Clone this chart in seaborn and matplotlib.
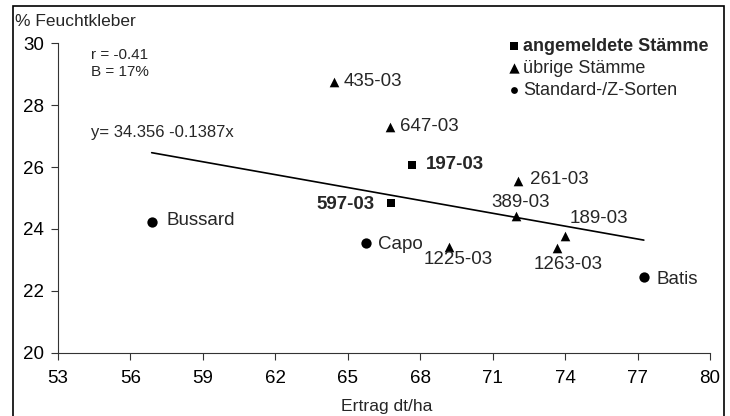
import seaborn as sns
import matplotlib.pyplot as plt
from matplotlib.patches import Rectangle

# data
names = ["197-03", "597-03", "435-03", "647-03", "261-03", "389-03",
         "189-03", "1263-03", "1225-03", "Bussard", "Capo", "Batis"]
ertrag = [67.66, 66.79, 64.41, 66.76, 72.05, 71.97, 73.98, 73.67, 69.18, 56.88, 65.75, 77.26]
kleber = [26.07, 24.85, 28.76, 27.31, 25.55, 24.42, 23.78, 23.39, 23.41, 24.24, 23.54, 22.44]
gruppe = ["angemeldete Stämme"] * 2 + ["übrige Stämme"] * 7 + ["Standard-/Z-Sorten"] * 3
gruppen = ["angemeldete Stämme", "übrige Stämme", "Standard-/Z-Sorten"]
achsen_x = [53, 56, 59, 62, 65, 68, 71, 74, 77, 80]
achsen_y = [20, 22, 24, 26, 28, 30]
# regression y = a + b*x as printed in the chart
reg_a = 34.356
reg_b = -0.1387

sns.set_theme(style="ticks")
plt.rcParams["font.family"] = ["Liberation Sans", "DejaVu Sans"]

fig = plt.figure(figsize=(7.3, 4.16), dpi=100)
ax = fig.add_axes([58 / 730, 1 - 352.7 / 416, (710 - 58) / 730, (352.7 - 43.4) / 416])

# marker style per group
stil = {"angemeldete Stämme": ("s", 38), "übrige Stämme": ("^", 48), "Standard-/Z-Sorten": ("o", 55)}
for g in gruppen:
    xs = [x for x, gg in zip(ertrag, gruppe) if gg == g]
    ys = [y for y, gg in zip(kleber, gruppe) if gg == g]
    sns.scatterplot(x=xs, y=ys, marker=stil[g][0], s=stil[g][1], color="black",
                    edgecolor="black", linewidth=0, label=g, ax=ax, zorder=3)

# regression line over the data range
lx = [min(ertrag), max(ertrag)]
ly = [reg_a + reg_b * v for v in lx]
sns.lineplot(x=lx, y=ly, color="black", linewidth=1.2, ax=ax, zorder=2)

# point labels: offset in pixels, alignment, bold
lab_pos = {
    "197-03": (14, 0, "left", True),
    "597-03": (-16, -2, "right", True),
    "435-03": (10, 0, "left", False),
    "647-03": (10, 0, "left", False),
    "261-03": (12, 2, "left", False),
    "389-03": (5, 13, "center", False),
    "189-03": (5, 17, "left", False),
    "1263-03": (11, -17, "center", False),
    "1225-03": (9, -12, "center", False),
    "Bussard": (15, 1, "left", False),
    "Capo": (12, -1, "left", False),
    "Batis": (13, -2, "left", False),
}
for n, x, y in zip(names, ertrag, kleber):
    dx, dy, ha, bold = lab_pos[n]
    ax.annotate(n, (x, y), xytext=(dx, dy), textcoords="offset pixels",
                ha=ha, va="center", fontsize=13.5,
                fontweight="bold" if bold else "normal")

ax.set_xlim(53, 80)
ax.set_ylim(20, 30)
ax.set_xticks(achsen_x)
ax.set_yticks(achsen_y)
ax.tick_params(axis="both", direction="out", length=5, width=0.8, color="#333333",
               labelsize=13.5, labelcolor="black")
ax.tick_params(axis="x", pad=7.5)
ax.tick_params(axis="y", pad=5)
for s in ["top", "right"]:
    ax.spines[s].set_visible(False)
for s in ["left", "bottom"]:
    ax.spines[s].set_linewidth(0.8)
    ax.spines[s].set_color("#333333")
ax.set_xlabel("")
ax.set_ylabel("")

leg = ax.legend(loc="upper left", bbox_to_anchor=(497 / 730, 1 - 29 / 416),
                bbox_transform=fig.transFigure, frameon=False, fontsize=13,
                handletextpad=0.05, handlelength=0.9, labelspacing=0.28,
                borderpad=0)
leg.get_texts()[0].set_fontweight("bold")
for h, sz in zip(leg.legend_handles, [34, 55, 24]):
    h.set_sizes([sz])

ax.text(91 / 730, 1 - 55 / 416, "r = -0.41", transform=fig.transFigure,
        fontsize=11, va="center", ha="left")
ax.text(91 / 730, 1 - 72 / 416, "B = 17%", transform=fig.transFigure,
        fontsize=11, va="center", ha="left")
ax.text(91 / 730, 1 - 133 / 416, "y= 34.356 -0.1387x", transform=fig.transFigure,
        fontsize=12, va="center", ha="left")

fig.text(15 / 730, 1 - 22 / 416, "% Feuchtkleber", fontsize=12.5, va="center", ha="left")
fig.text(387 / 730, 1 - 407 / 416, "Ertrag dt/ha", fontsize=12.6, va="center", ha="center")

# outer frame around the chart
fig.patches.append(Rectangle((13 / 730, -0.02), (724 - 13) / 730, 0.02 + 1 - 6 / 416,
                             transform=fig.transFigure, fill=False,
                             edgecolor="black", linewidth=1.2))

fig.savefig("out.png", dpi=100)
